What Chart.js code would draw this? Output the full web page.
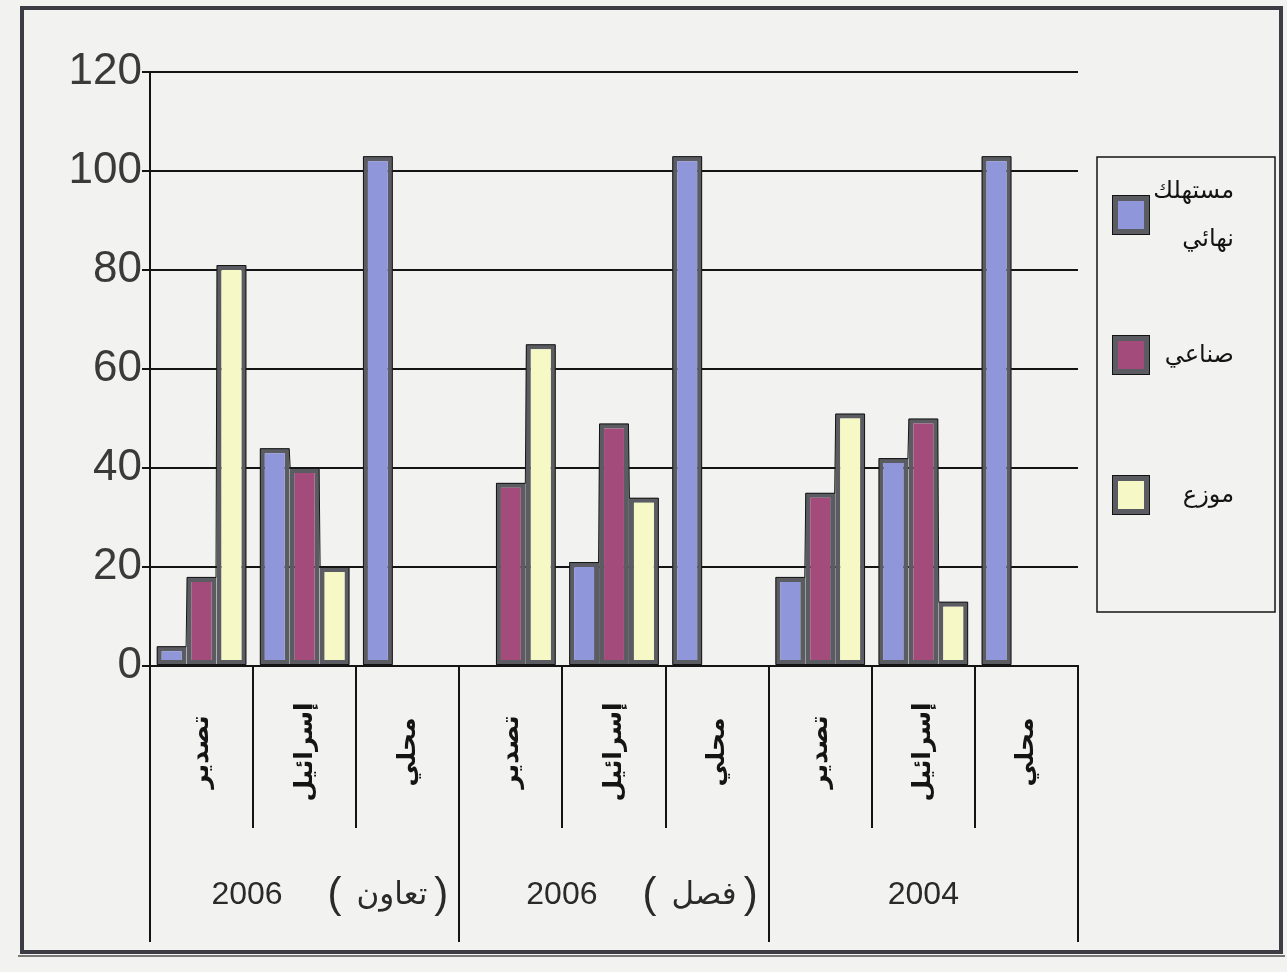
<!DOCTYPE html>
<html lang="ar">
<head>
<meta charset="utf-8">
<title>توزيع المبيعات</title>
<script src="https://cdn.jsdelivr.net/npm/chart.js@4.4.1/dist/chart.umd.min.js"></script>
<style>
  html, body { margin: 0; padding: 0; background: #f2f2f0; }
  #wrap { position: relative; width: 1287px; height: 972px; }
</style>
</head>
<body>
<div id="wrap"><canvas id="chart"></canvas></div>
<script>
// ── data ──
const categories = ['تصدير', 'إسرائيل', 'محلي', 'تصدير', 'إسرائيل', 'محلي', 'تصدير', 'إسرائيل', 'محلي'];
const groupYears = ['2006', '2006', '2004'];
const groupTags  = ['تعاون', 'فصل', null];
const groupSize  = 3;

const seriesNames = ['مستهلك نهائي', 'صناعي', 'موزع'];
const finalConsumer = [4, 44, 103, null, 21, 103, 18, 42, 103];
const industrial    = [18, 40, null, 37, 49, null, 35, 50, null];
const distributor   = [81, 20, null, 65, 34, null, 51, 13, null];

const yTicks = [0, 20, 40, 60, 80, 100, 120];

// ── look ──
const colors = {
  blue:   '#8f97da',
  maroon: '#a34c7c',
  yellow: '#f6f8c6',
  edge:   '#5a5c61',
  ink:    '#141414',
  text:   '#2a2a2a',
  paper:  '#f2f2f0',
};
const FONT = "Arial, 'Liberation Sans', 'DejaVu Sans', sans-serif";

function series(label, data, fill) {
  return {
    label, data,
    backgroundColor: fill,
    borderColor: colors.edge,
    borderWidth: 5,
    borderSkipped: false,
  };
}

// paper + outer frame
const framePlugin = {
  id: 'frame',
  beforeDraw(chart) {
    const ctx = chart.ctx;
    ctx.save();
    ctx.fillStyle = colors.paper;
    ctx.fillRect(0, 0, chart.width, chart.height);
    ctx.strokeStyle = '#3c3c44';
    ctx.lineWidth = 4;
    ctx.strokeRect(22, 8, 1259, 944);
    ctx.strokeStyle = '#777';
    ctx.lineWidth = 2;
    ctx.beginPath();
    ctx.moveTo(18, 956); ctx.lineTo(1285, 956);
    ctx.stroke();
    ctx.restore();
  }
};

// thin dark outline round each cluster of touching bars
const outlinePlugin = {
  id: 'outline',
  afterDatasetsDraw(chart) {
    const ctx = chart.ctx;
    ctx.save();
    ctx.strokeStyle = colors.ink;
    ctx.lineWidth = 1;
    const n = chart.data.datasets.length;
    chart.data.labels.forEach((_, j) => {
      const bars = [];
      for (let i = 0; i < n; i++) {
        if (chart.data.datasets[i].data[j] == null) continue;
        bars.push(chart.getDatasetMeta(i).data[j].getProps(['x', 'y', 'base', 'width'], true));
      }
      if (!bars.length) return;
      // trace the stepped silhouette: left side, tops, right side
      const base = bars[0].base - 0.5;
      ctx.beginPath();
      ctx.moveTo(bars[0].x - bars[0].width / 2 + 0.5, base);
      bars.forEach(b => {
        const l = b.x - b.width / 2 + 0.5, r = b.x + b.width / 2 - 0.5;
        ctx.lineTo(l, b.y + 0.5);
        ctx.lineTo(r, b.y + 0.5);
      });
      const last = bars[bars.length - 1];
      ctx.lineTo(last.x + last.width / 2 - 0.5, base);
      ctx.closePath();
      ctx.stroke();
    });
    ctx.restore();
  }
};

// category table under the axis: rotated labels, separators, group captions
const tablePlugin = {
  id: 'table',
  afterDraw(chart) {
    const ctx = chart.ctx;
    const x = chart.scales.x;
    const top = chart.chartArea.bottom;
    const step = x.getPixelForValue(1) - x.getPixelForValue(0);
    const innerBottom = 828, outerBottom = 942;

    ctx.save();
    ctx.strokeStyle = colors.ink;
    ctx.lineWidth = 2;
    for (let i = 0; i <= categories.length; i++) {
      const px = Math.round(x.getPixelForValue(i) - step / 2);
      const isGroupEdge = i % groupSize === 0;
      ctx.beginPath();
      ctx.moveTo(px, top);
      ctx.lineTo(px, isGroupEdge ? outerBottom : innerBottom);
      ctx.stroke();
    }

    // category names, turned to read upward
    ctx.fillStyle = colors.ink;
    ctx.font = 'bold 25px ' + FONT;
    ctx.textAlign = 'center';
    ctx.textBaseline = 'middle';
    categories.forEach((name, i) => {
      ctx.save();
      ctx.translate(x.getPixelForValue(i), 752);
      ctx.rotate(-Math.PI / 2);
      ctx.fillText(name, 0, 0);
      ctx.restore();
    });

    // group captions
    const capY = 895;
    groupYears.forEach((year, g) => {
      const left = x.getPixelForValue(g * groupSize) - step / 2;
      const right = x.getPixelForValue(g * groupSize + groupSize - 1) + step / 2;
      const tag = groupTags[g];
      ctx.fillStyle = colors.text;
      ctx.textBaseline = 'middle';
      if (!tag) {
        ctx.font = '32px ' + FONT;
        ctx.textAlign = 'center';
        ctx.fillText(year, (left + right) / 2, capY);
        return;
      }
      const rParen = right - 18;
      ctx.font = '31px ' + FONT;
      ctx.textAlign = 'right';
      const tagRight = rParen - 14;
      ctx.fillText(tag, tagRight, capY);
      const tagW = ctx.measureText(tag).width;
      const lParen = tagRight - tagW - 22;
      ctx.font = '42px ' + FONT;
      ctx.textAlign = 'center';
      ctx.fillText(')', rParen, capY);
      ctx.fillText('(', lParen, capY);
      ctx.font = '32px ' + FONT;
      ctx.textAlign = 'right';
      ctx.fillText(year, lParen - 52, capY);
    });
    ctx.restore();
  }
};

// boxed legend on the right
const legendPlugin = {
  id: 'boxLegend',
  afterDraw(chart) {
    const ctx = chart.ctx;
    const box = { x: 1097, y: 157, w: 178, h: 455 };
    const rows = [215, 355, 495];
    ctx.save();
    ctx.strokeStyle = colors.ink;
    ctx.lineWidth = 1.5;
    ctx.strokeRect(box.x, box.y, box.w, box.h);

    chart.data.datasets.forEach((ds, i) => {
      const cy = rows[i];
      const sx = 1112, sw = 38, sh = 40;
      ctx.fillStyle = colors.edge;
      ctx.fillRect(sx, cy - sh / 2, sw, sh);
      ctx.fillStyle = ds.backgroundColor;
      ctx.fillRect(sx + 6, cy - sh / 2 + 6, sw - 12, sh - 12);
      ctx.strokeStyle = colors.ink;
      ctx.lineWidth = 1;
      ctx.strokeRect(sx + 0.5, cy - sh / 2 + 0.5, sw - 1, sh - 1);

      const lines = ds.label.split(' ');
      const lh = 48;
      ctx.fillStyle = colors.ink;
      ctx.font = '24px ' + FONT;
      ctx.textAlign = 'right';
      ctx.textBaseline = 'middle';
      lines.forEach((ln, k) => {
        ctx.fillText(ln, 1234, cy + (k - (lines.length - 1) / 2) * lh);
      });
    });
    ctx.restore();
  }
};

new Chart(document.getElementById('chart'), {
  type: 'bar',
  data: {
    labels: categories,
    datasets: [
      series(seriesNames[0], finalConsumer, colors.blue),
      series(seriesNames[1], industrial, colors.maroon),
      series(seriesNames[2], distributor, colors.yellow),
    ]
  },
  options: {
    responsive: true,
    maintainAspectRatio: false,
    animation: false,
    devicePixelRatio: 1,
    layout: { padding: { left: 22, top: 72, right: 209, bottom: 306 } },
    datasets: { bar: { barPercentage: 1.0, categoryPercentage: 0.87 } },
    plugins: {
      legend: { display: false },
      tooltip: { enabled: false },
    },
    scales: {
      x: {
        grid: { display: false, drawTicks: false },
        ticks: { display: false },
        border: { display: true, color: colors.ink, width: 2 },
        afterFit: s => { s.height = 0; },
      },
      y: {
        min: yTicks[0],
        max: yTicks[yTicks.length - 1],
        afterBuildTicks: s => { s.ticks = yTicks.map(v => ({ value: v })); },
        ticks: {
          color: '#3a3a3a',
          padding: 0,
          font: { family: FONT, size: 44 },
        },
        grid: { color: colors.ink, lineWidth: 2, tickLength: 8 },
        border: { display: true, color: colors.ink, width: 2 },
        afterFit: s => { s.width = 128; },
      }
    }
  },
  plugins: [framePlugin, outlinePlugin, tablePlugin, legendPlugin]
});
</script>
</body>
</html>
